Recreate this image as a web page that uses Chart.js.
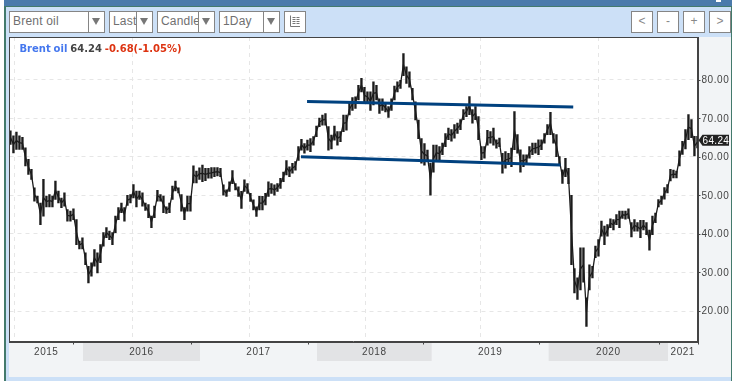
<!DOCTYPE html>
<html><head><meta charset="utf-8">
<style>
html,body{margin:0;padding:0;background:#fff;}
#page{position:relative;width:732px;height:381px;overflow:hidden;font-family:"Liberation Sans",Arial,sans-serif;}
.abs{position:absolute;}
.box{position:absolute;box-sizing:border-box;top:11px;height:22px;background:#fff;border:1.5px solid #858585;color:#707070;font-size:12px;line-height:19px;padding-left:3px;letter-spacing:.2px;white-space:nowrap;overflow:hidden;}
.drop{position:absolute;box-sizing:border-box;right:0;top:0;bottom:0;width:16px;background:#fff;border-left:1.5px solid #858585;}
.drop:after{content:"";position:absolute;left:3px;top:6px;border-left:4px solid transparent;border-right:4px solid transparent;border-top:7px solid #777;}
.btn{width:22px;padding:0;text-align:center;color:#888;font-size:12px;letter-spacing:0;}
#legend{position:absolute;left:19.5px;top:42px;font:bold 10px "DejaVu Sans",sans-serif;line-height:13px;white-space:nowrap;word-spacing:-.6px;}
canvas{position:absolute;left:0;top:0;}
</style></head>
<body><div id="page">
<div class="abs" style="left:4px;top:0;width:728px;height:381px;background:#cce0f7;"></div>
<div class="abs" style="left:4px;top:0;width:1.5px;height:381px;background:#437a6c;"></div>
<div class="abs" style="left:731px;top:0;width:1px;height:381px;background:#437a6c;"></div>
<div class="abs" style="left:4px;top:0;width:728px;height:6px;background:#4a7aab;"></div>
<div class="abs" style="left:4px;top:6px;width:728px;height:1px;background:#437a6c;"></div>
<div class="abs" style="left:716px;top:0;width:5px;height:2px;background:#fff;"></div>
<div class="abs" style="left:9px;top:37px;width:722px;height:340px;background:#f2f4f6;"></div>

<div class="box" style="left:9px;width:96px;">Brent oil<div class="drop"></div></div>
<div class="box" style="left:109px;width:44px;">Last<div class="drop"></div></div>
<div class="box" style="left:157px;width:58px;">Candle<div class="drop"></div></div>
<div class="box" style="left:219px;width:61px;">1Day<div class="drop"></div></div>
<div class="box btn" style="left:284px;">
<svg width="19" height="19" style="display:block"><g stroke="#777" stroke-width="1" fill="none"><path d="M5.5 3.5V14.5H15"/><path d="M7.5 5.5H15M7.5 7.5H15M7.5 9.5H15M7.5 11.5H15" stroke-dasharray="3 1"/></g></svg></div>
<div class="box btn" style="left:631px;">&lt;</div>
<div class="box btn" style="left:657px;">-</div>
<div class="box btn" style="left:683px;">+</div>
<div class="box btn" style="left:709px;">&gt;</div>

<canvas id="c" width="732" height="381"></canvas>
<div id="legend"><span style="color:#4477ee">Brent oil</span> <span style="color:#444">64.24</span> <span style="color:#dd3311">-0.68(-1.05%)</span></div>
</div>
<script src="https://cdn.jsdelivr.net/npm/chart.js@4"></script>
<script>
// Period high / low of Brent oil, about every 9 days
const seriesName = "Brent oil";
const firstPeriod = 2015.38, periodLength = 0.02564;
const highs = [
66.7,65.4,66.4,65.4,65,62.3,59.3,56.7,51.9,49.8,48,54.1,49.8,50.2,49.8,53.7,51.1,49.3,50.6,46.3,45.9,46.5,43.7,38.1,39,35.1,31.6,32.5,35.9,35.1,37.2,40.3,41.6,40.7,40.3,44.6,46.8,48,46.8,50,50.2,52.8,51.1,51.1,50.6,48,47.6,44.6,47.2,51.3,50.2,49.8,47,48,52.4,53.7,51.9,50.2,46.8,49.8,49.8,57.6,56.3,57.1,
57.8,57,57,57.2,57.2,57.2,57,52.7,51.4,53.5,56.4,53,52.2,51,54,53,50.5,48.8,47,49.7,49.7,50.5,53.5,53,52.7,53,54.4,56,59,57.4,58.3,58.7,62.6,64.5,63.4,64.3,64.7,65.2,67.9,70,70.8,71.2,67.8,65.6,67.9,66.5,66.5,70.8,70.8,73.8,75.3,75.5,78.5,80.3,78,76.8,76.8,79.4,78.5,75,75,73.8,73,75,78.3,79.4,79.8,86.7,83.3,82,77.7,74.2,69.5,64.7,63.4,61.7,58.3,63,63,62.6,
63.5,66,67.4,67,68.3,68.7,69.6,72.2,73,75.6,72.2,73,70.4,62.6,62.6,66.8,66.5,67.4,64.4,64.8,60.9,61.3,60.9,62.2,71.7,65.7,61.8,60.5,60.5,62.6,63.5,63.5,64.4,64.4,66,68.3,71.5,66,65.7,60,56.6,59.6,57,50,
31,28.6,36.4,36.4,23.4,32,31.6,36.8,38.5,43.3,42,42.4,43.9,43.7,45,45.9,45.9,45.9,46.5,42.9,43.7,42.9,43.5,43.5,42.9,41,44.6,45.4,48.9,49.8,52,52.8,56.7,56.5,56.3,61.5,
64,67,70.9,69.6,65.3,65.3];
const lows = [
63.2,61,61.9,61.9,61.9,57.6,55.4,54.1,48.5,48,42.4,44.6,47,47,47,48.9,48,46.8,47.2,43.3,43.3,43.7,37.2,36.1,36.1,32,27.3,29,31.6,29.9,32.5,36.8,39,38.5,37.2,40.3,43.7,45.5,43.3,47.4,48,49.3,47,48.9,47.2,46.1,44.2,41.6,44.2,48.5,48.5,45.5,45.3,45.5,48.9,51.1,50.6,45.9,43.7,45.9,45.9,53.2,53.2,54.1,
53.5,53.8,54.4,54.4,54.8,55,54.8,50,49.7,51,53,51.4,49.7,46.6,51,50.5,48.4,46.2,44.5,46.2,46.2,47.5,49.7,50.5,50,51,51.8,53.5,55.3,54.8,55.7,56.5,59,61.7,60.9,61.7,61.3,63,65.2,67.8,68.2,68.2,61.7,62,64.3,63,63.9,66.5,66.9,70.8,72,72.5,74.7,76.8,73.8,74.2,72,73.4,74.7,71.2,72,71.6,70.2,72,74.7,76.8,77.7,81,79,78,74.7,69.5,64.7,58.3,57.8,58.7,50,56,59,59,
60.5,62.6,64.4,64,64.8,66,67,69.6,70.4,70.9,68.7,69.6,64.4,59.2,59.6,63,63.5,63,62.2,62.6,55.7,57,57.9,57.4,61.8,60.9,56,57.4,58.3,59.6,60.5,60.9,60.5,61.8,63.5,65.7,65.7,63.5,60,57.9,53.1,54.8,53,32,
24.7,23,25.5,27.5,16,25.5,28.6,33.8,34.2,39.4,37.2,39.4,41.6,41,42.4,41.6,44,43.8,44,39.2,40.7,40.7,39,41,39.8,35.8,39.8,42.9,47,47.6,49,50.6,53.7,54.5,54.5,57.6,
60.6,62,64.4,64.9,60.2,62.3];
const lastPrice = 64.24;

// Year axis: positions of the dashed tick lines, the year bands and their labels
const yearLabels = ["2015","2016","2017","2018","2019","2020","2021"];
const yearStarts = [2015.372,2016,2017,2018,2018.98,2019.98,2021];
const shadedYears = ["2016","2018","2020"];
const tickYears = [2015.915,2016.923,2017.923,2018.906,2019.897,2020.923];
const priceTicks = [20,30,40,50,60,70,80];

// Hand-drawn trend lines
const upperTrendX = [2017.915,2020.19], upperTrendY = [74.3,72.88];
const lowerTrendX = [2017.863,2020.08], lowerTrendY = [60,57.85];

const xMin = 2015.372, xMax = 2021.252, yMin = 12.1, yMax = 91.02;
const periods = highs.map((h,i)=>firstPeriod+i*periodLength);
const bars = periods.map((x,i)=>({x:x, y:[lows[i],highs[i]]}));
const path = periods.map((x,i)=>({x:x, y:(lows[i]+highs[i])/2}));
const pts = (xs,ys)=>xs.map((x,i)=>({x:x,y:ys[i]}));
const axisFont = '10px "Liberation Sans", Arial, sans-serif';

const frame = {
  id:'frame',
  beforeDraw(c){
    const a=c.chartArea, g=c.ctx, x=c.scales.x;
    g.save();
    g.fillStyle='#fff'; g.fillRect(a.left,a.top,a.right-a.left,a.bottom-a.top);
    g.fillStyle='#e2e3e5';
    yearLabels.forEach((y,i)=>{
      if(!shadedYears.includes(y))return;
      const l=x.getPixelForValue(yearStarts[i]), r=x.getPixelForValue(yearStarts[i+1]);
      g.fillRect(l,343,r-l,18);
    });
    g.restore();
  },
  afterDraw(c){
    const a=c.chartArea, g=c.ctx, x=c.scales.x, y=c.scales.y;
    g.save();
    g.strokeStyle='#444'; g.lineWidth=1;
    g.strokeRect(Math.round(a.left)-.5,Math.round(a.top)+.5,Math.round(a.right-a.left)+1,Math.round(a.bottom-a.top));
    g.beginPath();
    tickYears.concat([xMax]).forEach(v=>{const p=Math.round(x.getPixelForValue(v))+.5; g.moveTo(p,a.bottom); g.lineTo(p,a.bottom+3);});
    priceTicks.forEach(v=>{const p=Math.round(y.getPixelForValue(v))+.5; g.moveTo(a.right,p); g.lineTo(a.right+3,p);});
    g.stroke();
    g.letterSpacing='0.55px';
    g.fillStyle='#444'; g.font=axisFont; g.textAlign='center'; g.textBaseline='middle';
    yearLabels.forEach((t,i)=>{
      const l=x.getPixelForValue(yearStarts[i]);
      const r=x.getPixelForValue(i+1<yearStarts.length?yearStarts[i+1]:xMax);
      g.fillText(t,(l+r)/2,352);
    });
    g.textAlign='left';
    priceTicks.forEach(v=>g.fillText(v.toFixed(2),a.right+4,y.getPixelForValue(v)+.7));
    const p=y.getPixelForValue(lastPrice);
    g.fillStyle='#222';
    g.beginPath(); g.moveTo(a.right+1,p); g.lineTo(a.right+5,p-5.5); g.lineTo(729,p-5.5); g.lineTo(729,p+5.5); g.lineTo(a.right+5,p+5.5); g.closePath(); g.fill();
    g.letterSpacing='0.35px';
    g.fillStyle='#fff';
    g.fillText(lastPrice.toFixed(2),a.right+5,p+.7);
    g.restore();
  }
};

new Chart(document.getElementById('c'),{
  type:'bar',
  data:{datasets:[
    {type:'line',label:'Upper trend',data:pts(upperTrendX,upperTrendY),borderColor:'#00417f',borderWidth:3,pointRadius:0,order:1},
    {type:'line',label:'Lower trend',data:pts(lowerTrendX,lowerTrendY),borderColor:'#00417f',borderWidth:3,pointRadius:0,order:1},
    {type:'line',label:seriesName+' path',data:path,borderColor:'#1c1c1c',borderWidth:1.3,pointRadius:0,order:2},
    {type:'bar',label:seriesName,data:bars,backgroundColor:'#1c1c1c',barThickness:1.7,grouped:false,order:3}
  ]},
  options:{
    responsive:false,animation:false,devicePixelRatio:1,
    layout:{padding:{left:9.5,top:37,right:0,bottom:0}},
    plugins:{legend:{display:false},tooltip:{enabled:false}},
    scales:{
      x:{type:'linear',position:'bottom',offset:false,min:xMin,max:xMax,
        afterBuildTicks(s){s.ticks=tickYears.map(v=>({value:v}));},
        afterFit(s){s.height=39.5;},
        ticks:{display:false,autoSkip:false,maxRotation:0},
        grid:{color:'#e6e6e6',drawTicks:false},
        border:{dash:[4,4],color:'#444',width:1}},
      y:{type:'linear',position:'right',min:yMin,max:yMax,
        afterBuildTicks(s){s.ticks=priceTicks.map(v=>({value:v}));},
        afterFit(s){s.width=34.5;},
        ticks:{display:false},
        grid:{color:'#e6e6e6',drawTicks:false},
        border:{dash:[4,4],color:'#444',width:1}}
    }
  },
  plugins:[frame]
});
</script>
</body></html>
